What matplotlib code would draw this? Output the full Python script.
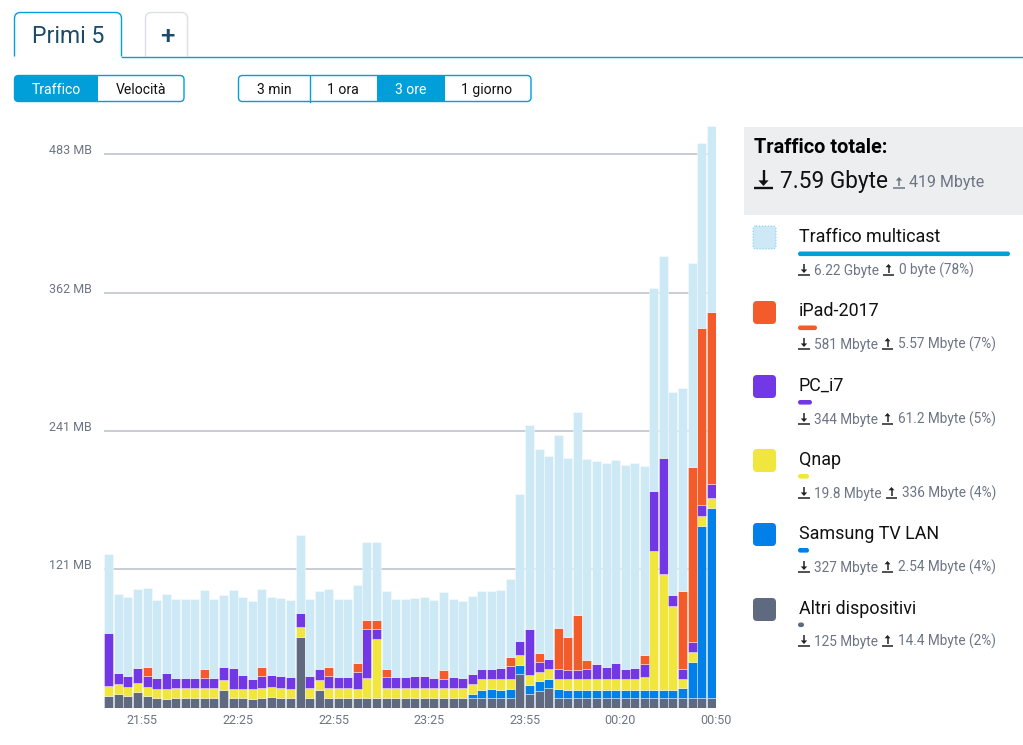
import matplotlib
matplotlib.use("Agg")
import matplotlib.pyplot as plt
from matplotlib.patches import FancyBboxPatch, Rectangle, PathPatch, Polygon
from matplotlib.path import Path
from matplotlib.transforms import ScaledTranslation
import numpy as np

plt.rcParams['font.family'] = ['Roboto', 'DejaVu Sans']

# ---- data (MB per 3-minute bucket) ----
altri = [10.2,12.2,9.9,13.1,9.6,8.1,7.6,8.4,8.4,8.1,
         8.1,8.1,15.1,8.1,8.1,7.6,7.9,9.3,8.7,8.1,
         61.4,8.1,15.1,7.9,7.9,7.9,8.1,7.9,7.9,7.9,
         7.9,7.9,7.9,7.9,7.9,7.9,7.9,7.9,7.9,7.9,
         8.4,7.9,8.1,29.1,12.2,14.8,17.2,8.4,7.9,7.9,
         7.9,7.9,7.9,7.9,7.9,7.9,7.9,7.9,7.9,7.9,
         7.9,7.9,7.9,8.4]
samsung = [0,0,0,0,0,0,0,0,0,0,
           0,0,0,0,0,0,0,0,0,0,
           0,0,0,0,0,0,0,0,0,0,
           0,0,0,0,0,0,0,0,4.1,7.6,
           7.9,7.6,7.9,7.9,7.6,7.9,7.9,7.9,7.6,7.6,
           7.6,7.6,7.6,7.6,7.6,7.6,7.6,7.6,7.6,7.6,
           8.7,32.0,150.4,165.5]
qnap = [8.7,8.4,8.4,8.4,8.7,8.4,8.7,8.4,8.4,8.7,
        8.7,8.7,9.0,8.4,8.4,8.7,8.7,8.4,8.7,8.4,
        8.7,8.7,8.7,8.7,8.7,8.7,8.4,17.5,51.5,8.7,
        8.7,8.7,8.7,8.7,8.7,8.7,8.7,8.7,8.4,9.0,
        8.4,9.0,8.7,8.7,8.7,8.7,8.4,8.4,9.0,9.0,
        9.0,9.0,9.0,9.0,9.0,9.0,11.1,121.0,100.7,73.0,
        8.7,8.4,8.7,8.7]
pc_i7 = [45.7,9.6,9.3,12.8,9.0,9.0,14.0,9.0,9.0,9.0,
         9.0,9.0,11.1,18.0,11.9,8.7,11.1,10.5,10.2,9.9,
         12.5,10.5,9.6,11.1,9.9,9.9,14.6,42.8,9.0,9.6,
         9.6,9.6,10.5,11.3,9.3,8.7,9.6,9.0,9.0,9.3,
         9.0,9.9,11.3,11.9,40.4,8.4,8.4,9.0,8.4,8.4,
         9.0,13.4,10.8,14.0,9.3,9.6,11.1,52.4,101.2,9.3,
         8.7,9.0,9.6,12.2]
ipad = [0,0,0,0,7.9,0,0,0,0,0,
        7.9,0,0,0,0,0,7.6,0,0,0,
        0,0,0,7.6,0,0,7.6,8.1,8.1,7.6,
        0,0,0,0,0,7.6,0,0,0,0,
        0,0,7.9,0,0,8.1,0,35.5,28.5,47.4,
        7.9,0,0,0,0,0,7.9,0,0,0,
        67.5,152.5,154.5,150.0]
multicast = [69,69,68.7,69,69,68.1,69,68.7,69,69,
             68.7,69,63.4,67.8,67.8,67.8,68.1,68.1,68.1,67.2,
             67.8,67.8,68.1,68.1,67.8,67.8,68.4,68.1,67.5,68.1,
             68.1,68.1,68.1,68.1,68.1,68.1,68.1,67.2,67.8,68.1,
             67.8,67.8,67.8,128.3,178,177.4,178,168.4,156.2,177.4,
             175.4,177.2,178,177.2,178,179,165,177,177,177.4,
             177.2,178,161.4,162.3]

y_ticks = [121, 241, 362, 483]
y_labels = ['121 MB', '241 MB', '362 MB', '483 MB']
x_tick_pos = [3.5, 13.5, 23.5, 33.5, 43.5, 53.5, 63.5]
x_labels = ['21:55', '22:25', '22:55', '23:25', '23:55', '00:20', '00:50']

series = [('Altri dispositivi', altri, '#5f6a80'),
          ('Samsung TV LAN', samsung, '#0080e8'),
          ('Qnap', qnap, '#f0e63e'),
          ('PC_i7', pc_i7, '#7338e6'),
          ('iPad-2017', ipad, '#f45b2a'),
          ('Traffico multicast', multicast, '#cce9f5')]

W, H = 1023, 745
BLUE = '#009fd9'
GREY = '#6c7585'
px = 72 / 100  # pt per pixel at dpi 100

fig = plt.figure(figsize=(W / 100, H / 100), dpi=100, facecolor='white')

# ---- chart ----
ax_l, ax_r, ax_b, ax_t = 104, 716, 707.5, 120
ax = fig.add_axes([ax_l / W, (H - ax_b) / H, (ax_r - ax_l) / W, (ax_b - ax_t) / H])
ax.set_xlim(-0.5, 63.5)
ax.set_ylim(0, (ax_b - ax_t) * 483 / 553.5)
x = np.arange(len(altri))
bottom = np.zeros(len(altri))
for name, vals, col in series:
    vals = np.array(vals, dtype=float)
    mask = vals > 0
    ax.bar(x[mask], vals[mask], bottom=bottom[mask], width=0.94, color=col,
           edgecolor=(1, 1, 1, 0.45), linewidth=0.6, zorder=3)
    bottom += vals
for s in ax.spines.values():
    s.set_visible(False)
ax.set_yticks(y_ticks)
ax.set_yticklabels(y_labels)
ax.set_xticks(x_tick_pos)
ax.set_xticklabels(x_labels)
ax.tick_params(axis='both', length=0, labelsize=12.5 * px, labelcolor=GREY)
ax.tick_params(axis='y', pad=12 * px)
ax.tick_params(axis='x', pad=6.5 * px)
shift = ScaledTranslation(0, -3 / 100, fig.dpi_scale_trans)
for t in ax.get_yticklabels():
    t.set_va('bottom')
    t.set_transform(t.get_transform() + shift)
ax.grid(axis='y', color='#bfc3cd', linewidth=1.2, zorder=1)
ax.set_axisbelow(True)

# ---- overlay in pixel coordinates ----
ui = fig.add_axes([0, 0, 1, 1], zorder=5)
ui.set_xlim(0, W)
ui.set_ylim(H, 0)
ui.axis('off')
ui.patch.set_alpha(0)


def rbox(x0, y0, x1, y1, r=4, fc='none', ec='none', lw=1.0, ls='-'):
    p = FancyBboxPatch((x0 + r, y0 + r), x1 - x0 - 2 * r, y1 - y0 - 2 * r,
                       boxstyle=f'round,pad={r},rounding_size={r}',
                       fc=fc, ec=ec, lw=lw, ls=ls, mutation_aspect=1)
    ui.add_patch(p)


def tab(x0, x1, y0, y1, ec, r=6, lw=1.0):
    verts = [(x0, y1), (x0, y0 + r), (x0, y0), (x0 + r, y0),
             (x1 - r, y0), (x1, y0), (x1, y0 + r), (x1, y1)]
    codes = [Path.MOVETO, Path.LINETO, Path.CURVE3, Path.CURVE3,
             Path.LINETO, Path.CURVE3, Path.CURVE3, Path.LINETO]
    ui.add_patch(PathPatch(Path(verts, codes), fc='none', ec=ec, lw=lw))


def txt(x, y, s, size, color='#111111', ha='left', weight='normal'):
    ui.text(x, y + 0.34 * size, s, fontsize=size * px, color=color, ha=ha, va='baseline', fontweight=weight)


def arrow_icon(x0, x1, y0, y1, up, color, lw=1.3):
    """download/upload glyph: a bar under a vertical arrow"""
    cx = (x0 + x1) / 2
    ui.plot([x0, x1], [y1, y1], color=color, lw=lw, solid_capstyle='butt')
    head = (x1 - x0) * 0.27
    hh = head * 1.1
    stem_bot = y1 - 2
    if up:
        ui.plot([cx, cx], [y0 + hh * 0.6, stem_bot], color=color, lw=lw, solid_capstyle='butt')
        ui.add_patch(Polygon([(cx - head, y0 + hh), (cx + head, y0 + hh), (cx, y0)], fc=color, ec='none'))
    else:
        ui.plot([cx, cx], [y0, stem_bot - hh * 0.6], color=color, lw=lw, solid_capstyle='butt')
        ui.add_patch(Polygon([(cx - head, stem_bot - hh), (cx + head, stem_bot - hh), (cx, stem_bot)], fc=color, ec='none'))


# tabs
ui.plot([121.5, W], [56.5, 56.5], color=BLUE, lw=1.0)
tab(14.5, 121.5, 12.5, 56.5, BLUE)
tab(145.5, 187.5, 12.5, 56.5, '#dde0e6')
txt(68.5, 35, 'Primi 5', 23, '#1c4a68', ha='center')
txt(167, 35, '+', 26, '#1c4a68', ha='center', weight='medium')

# button groups
rbox(14.5, 75.5, 98, 101.5, r=4, fc=BLUE)
ui.add_patch(Rectangle((90, 75.5), 8, 26, fc=BLUE, ec='none'))
rbox(14.5, 75.5, 184, 101.5, r=4, ec=BLUE)
txt(56, 89, 'Traffico', 14, 'white', ha='center')
txt(141, 89, 'Velocità', 14, ha='center')

ui.add_patch(Rectangle((376.5, 75.5), 68.5, 26, fc=BLUE, ec='none'))
rbox(238.5, 75.5, 531, 101.5, r=4, ec=BLUE)
ui.plot([309.5, 309.5], [75.5, 101.5], color=BLUE, lw=1.0)
txt(274, 89, '3 min', 14, ha='center')
txt(343, 89, '1 ora', 14, ha='center')
txt(411, 89, '3 ore', 14, 'white', ha='center')
txt(487, 89, '1 giorno', 14, ha='center')

# total panel
ui.add_patch(Rectangle((744, 127), W - 744, 88, fc='#edeef0', ec='none'))
txt(754, 146, 'Traffico totale:', 19.9, '#000000', weight='bold')
arrow_icon(754, 773, 170, 188, False, '#111111', lw=1.7)
txt(780, 180, '7.59 Gbyte', 22.6, '#111111')
arrow_icon(893, 905, 177, 188, True, GREY, lw=1.1)
txt(909, 182, '419 Mbyte', 16, GREY)

# legend
legend = [
    ('Traffico multicast', '#cce9f5', BLUE, 226, 236, 251.5, 1010, 270, '6.22 Gbyte', '0 byte (78%)', 883, 899),
    ('iPad-2017', '#f45b2a', '#f45b2a', 301, 310, 325.5, 817, 344, '581 Mbyte', '5.57 Mbyte (7%)', 882, 898),
    ('PC_i7', '#7338e6', '#7338e6', 375, 385, 400, 812, 419, '344 Mbyte', '61.2 Mbyte (5%)', 882, 898),
    ('Qnap', '#f0e63e', '#f0e63e', 449, 459, 474, 809, 493, '19.8 Mbyte', '336 Mbyte (4%)', 886, 902),
    ('Samsung TV LAN', '#0080e8', '#0080e8', 523, 533, 548, 809, 567, '327 Mbyte', '2.54 Mbyte (4%)', 882, 898),
    ('Altri dispositivi', '#5f6a80', '#5f6a80', 598, 608, 622.5, 804, 641, '125 Mbyte', '14.4 Mbyte (2%)', 882, 898),
]
for name, fc, barc, sy, ny, by, bx1, dy, down, upv, upx, upt in legend:
    if name == 'Traffico multicast':
        rbox(753, sy, 776, sy + 23, r=3, fc=fc, ec='#7fd0ee', lw=0.8, ls=':')
    else:
        rbox(753, sy, 776, sy + 23, r=4, fc=fc)
    txt(799, ny, name, 17.9, '#111111')
    rbox(798, by, bx1, by + 4.6, r=2.3, fc=barc)
    arrow_icon(798, 810, dy - 6, dy + 5, False, '#222222', lw=1.1)
    txt(814, dy, down, 13.6, GREY)
    arrow_icon(upx, upx + 11, dy - 6, dy + 5, True, '#222222', lw=1.1)
    txt(upt, dy, upv, 13.6, GREY)

fig.savefig('out.png', dpi=100)
